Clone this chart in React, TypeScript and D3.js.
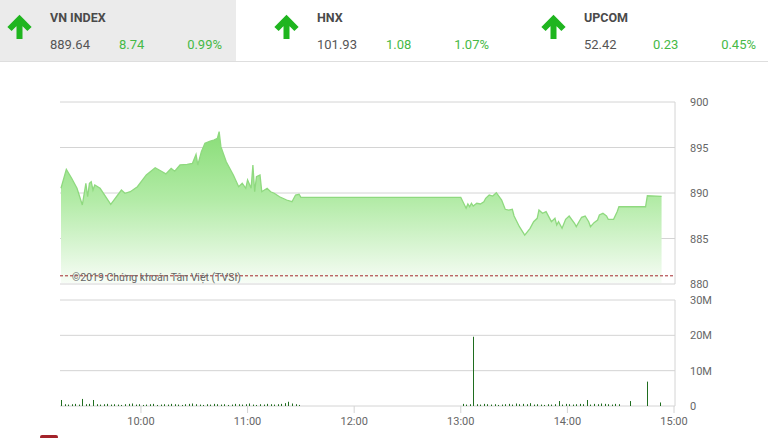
import React from "react";
import * as d3 from "d3";

// ---------- DATA ----------
const indexNames = ["VN INDEX", "HNX", "UPCOM"];
const indexValues = ["889.64", "101.93", "52.42"];
const indexChanges = ["8.74", "1.08", "0.23"];
const indexPcts = ["0.99%", "1.07%", "0.45%"];

const priceTimes = [
  "9:15", "9:18", "9:21", "9:24", "9:27", "9:29", "9:30", "9:31", "9:32", "9:33", "9:34", "9:37",
  "9:43", "9:49", "9:51", "9:54", "9:58", "10:03", "10:08", "10:12", "10:14", "10:17", "10:19",
  "10:22", "10:26", "10:29", "10:31", "10:32", "10:34", "10:36", "10:39", "10:41", "10:43", "10:44",
  "10:45", "10:48", "10:52", "10:55", "10:57", "10:59", "11:00", "11:02", "11:03", "11:04", "11:05",
  "11:07", "11:08", "11:11", "11:13", "11:15", "11:18", "11:22", "11:25", "11:27", "11:29", "11:30",
  "13:00", "13:03", "13:04", "13:05", "13:06", "13:07", "13:09", "13:11", "13:13", "13:14", "13:16",
  "13:18", "13:20", "13:23", "13:25", "13:27", "13:29", "13:30", "13:33", "13:36", "13:39", "13:41",
  "13:43", "13:44", "13:46", "13:48", "13:51", "13:53", "13:54", "13:55", "13:57", "13:59", "14:01",
  "14:04", "14:05", "14:08", "14:10", "14:12", "14:13", "14:15", "14:17", "14:18", "14:20", "14:22",
  "14:23", "14:26", "14:28", "14:29", "14:44", "14:45", "14:53"
];
const priceValues = [
  890.52, 892.6, 891.62, 890.52, 888.68, 891.07, 889.59, 891.07, 891.24, 890.33, 890.88, 890.52,
  888.76, 890.33, 889.97, 890.14, 890.69, 891.98, 892.78, 892.34, 892.1, 892.7, 892.4,
  893.08, 893.15, 893.26, 894.25, 893.08, 894.54, 895.46, 895.71, 895.82, 896.01, 896.74,
  895.09, 893.44, 891.98, 890.69, 891.07, 890.52, 891.43, 890.52, 893.08, 890.14, 891.79,
  891.98, 890.14, 890.52, 890.14, 889.97, 889.59, 889.23, 889.04, 889.78, 889.86, 889.53,
  889.53, 888.32, 888.79, 888.49, 888.87, 888.57, 888.87, 888.79, 889.04, 889.42, 889.78,
  889.67, 890.03, 889.23, 888.21, 888.13, 888.21, 887.47, 886.3, 885.38, 886.12, 886.85,
  887.22, 888.13, 887.77, 887.95, 886.85, 887.22, 886.48, 886.85, 886.12, 887.11, 887.47,
  886.67, 886.3, 887.33, 887.47, 886.85, 886.3, 886.74, 887.03, 887.58, 887.77, 887.47,
  887.11, 887.11, 887.95, 888.49, 888.49, 889.7, 889.64
];
const refValue = 880.9;

const volMorningStart = "9:15";
const volMorning = [
  1.7, 0.5, 0.4, 0.5, 0.6, 0.4, 2.0, 0.5, 0.6, 1.7, 0.5, 0.4, 0.5, 0.6, 0.4, 0.5, 0.4, 0.3, 0.5, 0.6,
  0.7, 0.4, 0.5, 0.3, 0.4, 0.5, 0.6, 0.3, 0.4, 0.5, 0.4, 0.6, 0.5, 0.4, 0.3, 0.5, 0.6, 0.7, 0.5, 0.4,
  0.3, 0.5, 0.4, 0.6, 0.5, 0.4, 0.5, 0.3, 0.4, 0.6, 0.5, 0.4, 0.5, 0.7, 0.4, 0.3, 0.5, 0.4, 0.6, 0.5,
  0.4, 0.5, 0.6, 0.8, 1.2, 0.7, 0.5, 0.3
];
const volAfternoonStart = "13:01";
const volAfternoon = [
  0.6, 0.4, 0.5, 19.6, 0.5, 0.4, 0.6, 0.5, 0.4, 0.5, 0.3, 0.4, 0.5, 0.6, 0.4, 0.7, 0.5, 0.6, 0.5, 0.8,
  0.4, 0.5, 0.4, 0.3, 0.5, 0.4, 0.5, 1.4, 0.4, 0.6, 0.5, 0.4, 0.5, 0.6, 0.5, 1.7, 0.4, 0.6, 0.5, 0.7,
  0.6, 0.5, 0.4, 0.6, 0.5
];
const volStep = 2;
const volLateTimes = ["14:35", "14:45", "14:52"];
const volLateValues = [1.4, 6.9, 1.0];

const priceTicks = [880, 885, 890, 895, 900];
const volTicks = [0, 10, 20, 30];
const volTickLabels = ["0", "10M", "20M", "30M"];
const timeTicks = ["10:00", "11:00", "12:00", "13:00", "14:00", "15:00"];
const watermark = "©2019 Chứng khoán Tân Việt (TVSI)";

// ---------- HELPERS ----------
const toMin = (s: string) => {
  const [h, m] = s.split(":").map(Number);
  return h * 60 + m;
};

const W = 768;
const H = 438;
const FONT = "Roboto, 'Noto Sans', sans-serif";

export default function App() {
  const x = d3.scaleLinear().domain([toMin("9:15"), toMin("15:00")]).range([61, 674]);
  const yP = d3.scaleLinear().domain([880, 900]).range([284, 102]);
  const yV = d3.scaleLinear().domain([0, 30]).range([406, 300]);
  const plotL = 60;
  const plotR = 675;

  const pts = priceTimes.map((t, i) => ({ t: toMin(t), v: priceValues[i] }));
  const line = d3.line<{ t: number; v: number }>().x((d) => x(d.t)).y((d) => yP(d.v));
  const area = d3
    .area<{ t: number; v: number }>()
    .x((d) => x(d.t))
    .y0(283)
    .y1((d) => yP(d.v));

  const vols: { t: number; v: number }[] = [];
  volMorning.forEach((v, i) => vols.push({ t: toMin(volMorningStart) + i * volStep, v }));
  volAfternoon.forEach((v, i) => vols.push({ t: toMin(volAfternoonStart) + i * volStep, v }));
  volLateTimes.forEach((t, i) => vols.push({ t: toMin(t), v: volLateValues[i] }));

  const offsets = [0, 267, 534];
  const green = "#46b946";
  const arrowGreen = "#1fb51f";

  return (
    <svg
      width={W}
      height={H}
      style={{ position: "absolute", left: 0, top: 0, background: "#fff" }}
      fontFamily={FONT}
    >
      <defs>
        <linearGradient id="gfill" x1="0" y1="130" x2="0" y2="284" gradientUnits="userSpaceOnUse">
          <stop offset="0" stopColor="#88dd76" />
          <stop offset="0.45" stopColor="#b2eba6" />
          <stop offset="1" stopColor="#f8fdf7" />
        </linearGradient>
      </defs>

      {/* header */}
      <rect x={0} y={0} width={236} height={61} fill="#ebebeb" />
      <line x1={0} x2={W} y1={61.5} y2={61.5} stroke="#dedede" />
      {indexNames.map((n, i) => {
        const o = offsets[i];
        const cx = o + 19.5;
        return (
          <g key={n}>
            <path
              d={`M${cx - 10},${29} L${cx},${19} L${cx + 10},${29} M${cx},${20} L${cx},${39}`}
              stroke={arrowGreen}
              strokeWidth={6}
              fill="none"
              strokeLinejoin="miter"
            />
            <text x={o + 50} y={22} fontSize={12.5} fontWeight="bold" fill="#4a4a4a">
              {n}
            </text>
            <text x={o + 50} y={49} fontSize={13} fill="#555">
              {indexValues[i]}
            </text>
            <text x={o + 119} y={49} fontSize={13} fill={green}>
              {indexChanges[i]}
            </text>
            <text x={o + 222} y={49} fontSize={13} fill={green} textAnchor="end">
              {indexPcts[i]}
            </text>
          </g>
        );
      })}

      {/* price grid */}
      {priceTicks.map((t) => (
        <g key={t}>
          <line x1={plotL} x2={plotR} y1={yP(t)} y2={yP(t)} stroke="#d4d4d4" />
          <text x={690} y={yP(t) + 4} fontSize={11} fill="#666">
            {t}
          </text>
        </g>
      ))}
      <line x1={plotR} x2={plotR} y1={yP(900)} y2={yP(880)} stroke="#d4d4d4" />

      <path d={area(pts) || ""} fill="url(#gfill)" />
      <path d={line(pts) || ""} fill="none" stroke="#8fd97f" strokeWidth={1.3} />

      <line
        x1={plotL}
        x2={plotR}
        y1={yP(refValue)}
        y2={yP(refValue)}
        stroke="#a3282d"
        strokeDasharray="3,2"
        strokeWidth={1}
      />
      <text x={72} y={280.5} fontSize={10.5} fill="#666">
        {watermark}
      </text>

      {/* volume grid */}
      {volTicks.map((t, i) => (
        <g key={t}>
          <line x1={plotL} x2={plotR} y1={yV(t)} y2={yV(t)} stroke="#d4d4d4" />
          <text x={690} y={yV(t) + 4} fontSize={11} fill="#666">
            {volTickLabels[i]}
          </text>
        </g>
      ))}
      <line x1={plotR} x2={plotR} y1={yV(30)} y2={yV(0)} stroke="#d4d4d4" />

      {vols.map((d, i) => (
        <rect
          key={i}
          x={Math.round(x(d.t))}
          y={yV(d.v)}
          width={1}
          height={yV(0) - yV(d.v)}
          fill="#1f6d1f"
        />
      ))}

      {/* time axis */}
      {timeTicks.map((t) => (
        <g key={t}>
          <line x1={x(toMin(t))} x2={x(toMin(t))} y1={406} y2={413} stroke="#d4d4d4" />
          <text x={x(toMin(t))} y={425} fontSize={11} fill="#666" textAnchor="middle">
            {t}
          </text>
        </g>
      ))}

      <rect x={40} y={435} width={18} height={4} rx={2} fill="#a3232a" />
    </svg>
  );
}
